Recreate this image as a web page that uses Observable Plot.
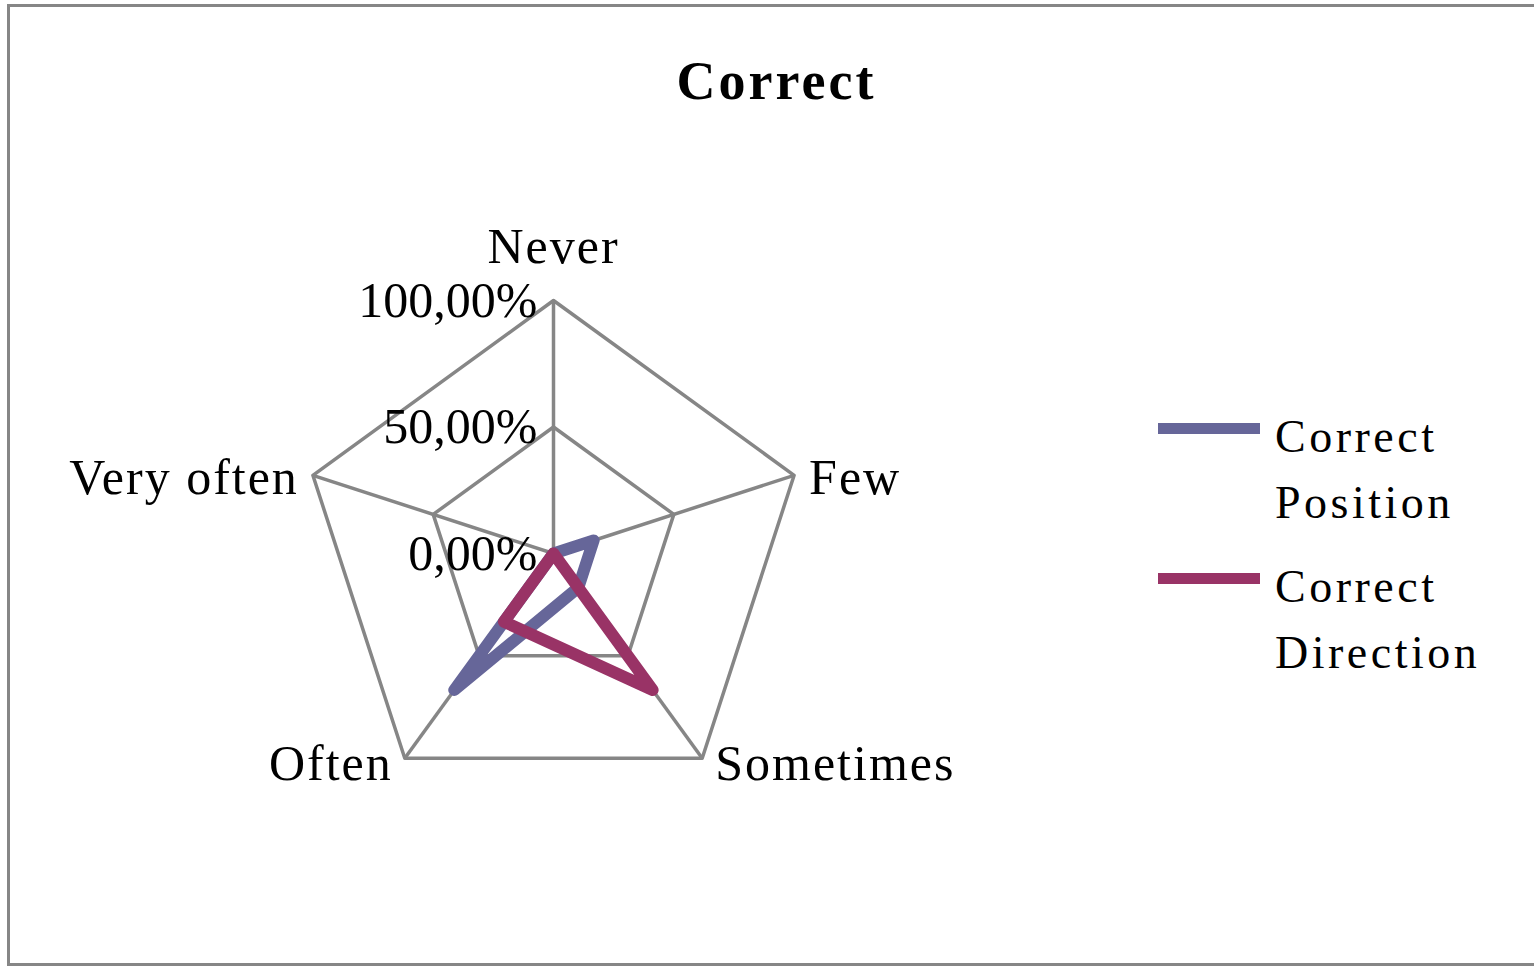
<!DOCTYPE html>
<html>
<head>
<meta charset="utf-8">
<script src="https://cdn.jsdelivr.net/npm/d3@7"></script>
<script src="https://cdn.jsdelivr.net/npm/@observablehq/plot@0.6"></script>
<style>
  html, body { margin: 0; padding: 0; background: #ffffff; overflow: hidden; }
  #page { position: relative; width: 1534px; height: 966px; overflow: hidden; background: #fff; }
  #frame { position: absolute; left: 7px; top: 4px; width: 1560px; height: 956px; border: 3px solid #868686; box-sizing: content-box; }
  #title { position: absolute; left: 0; top: 54px; width: 1553px; text-align: center; font-family: "Liberation Serif", serif; font-weight: bold; font-size: 54px; line-height: 54px; letter-spacing: 3px; color: #000; }
  #chart { position: absolute; left: 0; top: 0; width: 1534px; height: 966px; }
  #chart svg { max-width: none !important; }
  .series-line, .series-line path { stroke-width: 12px !important; }
  .grid-line, .grid-line path, .grid-line line { stroke-width: 3.5px !important; }
  .legend-item { position: absolute; left: 1158px; }
  .legend-swatch { position: absolute; left: 0; top: 19px; width: 102px; height: 11px; }
  .legend-text { position: absolute; left: 117px; top: 0; white-space: nowrap; font-family: "Liberation Serif", serif; font-size: 46px; line-height: 66px; letter-spacing: 3.5px; color: #000; }
  .axis-label { letter-spacing: 2px; }
</style>
</head>
<body>
<div id="page">
  <div id="frame"></div>
  <div id="title"></div>
  <div id="chart"></div>
  <div id="legend"></div>
</div>
<script>
// ---- data ----
const titleText = "Correct";
const categories = ["Never", "Few", "Sometimes", "Often", "Very often"];
const seriesNames = [["Correct", "Position"], ["Correct", "Direction"]];
const seriesColors = ["#666699", "#993366"];
const correctPosition = [0, 0.1667, 0.1667, 0.6667, 0];
const correctDirection = [0, 0, 0.6667, 0.3333, 0];
const gridLevels = [0, 0.5, 1];
const tickLabels = ["0,00%", "50,00%", "100,00%"];

// ---- geometry helpers ----
const W = 1534, H = 966;
const cx = 553, cy = 553, R = 253; // pixel centre & radius used to set scale domains
const n = categories.length;
const ang = i => (2 * Math.PI * i) / n;
const px = (v, i) => v * Math.sin(ang(i));
const py = (v, i) => v * Math.cos(ang(i));

const gridRows = [];
gridLevels.filter(l => l > 0).forEach(l => {
  categories.forEach((c, i) => gridRows.push({level: l, x: px(l, i), y: py(l, i)}));
});
const spokes = categories.map((c, i) => ({x2: px(1, i), y2: py(1, i)}));

const seriesValues = [correctPosition, correctDirection];
const seriesRows = [];
seriesValues.forEach((vals, s) => {
  vals.forEach((v, i) => seriesRows.push({series: s, x: px(v, i), y: py(v, i)}));
});

// label placement around the pentagon
const labelOpts = [
  {anchor: "middle", dx: 0, dy: -54},
  {anchor: "start", dx: 15, dy: 3},
  {anchor: "start", dx: 13, dy: 6},
  {anchor: "end", dx: -12, dy: 6},
  {anchor: "end", dx: -14, dy: 3}
];

const font = "Liberation Serif";

const chart = Plot.plot({
  width: W,
  height: H,
  margin: 0,
  style: {background: "transparent", fontFamily: font, overflow: "visible"},
  x: {domain: [-cx / R, (W - cx) / R], axis: null},
  y: {domain: [(cy - H) / R, cy / R], axis: null},
  marks: [
    Plot.link(spokes, {x1: 0, y1: 0, x2: "x2", y2: "y2", stroke: "#868686", strokeWidth: 3.5, className: "grid-line"}),
    Plot.line(gridRows, {x: "x", y: "y", z: "level", curve: "linear-closed", stroke: "#868686", strokeWidth: 3.5, className: "grid-line"}),
    ...seriesValues.map((vals, s) =>
      Plot.line(seriesRows.filter(d => d.series === s), {x: "x", y: "y", curve: "linear-closed",
        stroke: seriesColors[s], strokeWidth: 12, strokeLinejoin: "round", strokeLinecap: "round", className: "series-line"})
    ),
    ...categories.map((c, i) =>
      Plot.text([c], {
        x: px(1, i), y: py(1, i), text: d => d,
        textAnchor: labelOpts[i].anchor, lineAnchor: "middle",
        dx: labelOpts[i].dx, dy: labelOpts[i].dy,
        fontSize: 50, fill: "#000", fontFamily: font, className: "axis-label"
      })
    ),
    Plot.text(gridLevels, {x: 0, y: d => d, text: (d, i) => tickLabels[i], textAnchor: "end", lineAnchor: "middle",
      dx: -16, fontSize: 50, fill: "#000", fontFamily: font})
  ]
});
document.getElementById("chart").appendChild(chart);

document.getElementById("title").textContent = titleText;

const legend = document.getElementById("legend");
seriesNames.forEach((lines, s) => {
  const item = document.createElement("div");
  item.className = "legend-item";
  item.style.top = (404 + s * 150) + "px";
  const sw = document.createElement("div");
  sw.className = "legend-swatch";
  sw.style.background = seriesColors[s];
  const tx = document.createElement("div");
  tx.className = "legend-text";
  tx.innerHTML = lines.join("<br>");
  item.appendChild(sw);
  item.appendChild(tx);
  legend.appendChild(item);
});
</script>
</body>
</html>
